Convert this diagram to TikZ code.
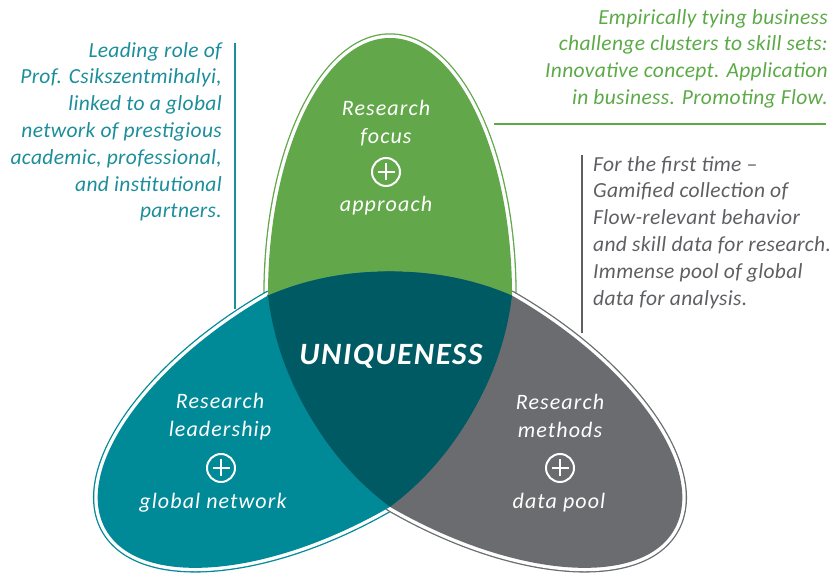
\documentclass[tikz,border=0pt]{standalone}
\usepackage{fontspec}
\setmainfont{Carlito}
\newfontfamily\petalfont[LetterSpace=5]{Carlito}
\newfontfamily\notefont[LetterSpace=1.5,Ligatures=TeX]{Carlito}
\usepackage{xcolor}
\usepackage{tikz}
\usetikzlibrary{positioning}
\definecolor{focusgreen}{HTML}{62A84B}
\definecolor{leadteal}{HTML}{008A98}
\definecolor{methgray}{HTML}{6B6C70}
\definecolor{uniqdark}{HTML}{005A63}
\definecolor{noteteal}{HTML}{1C8E9B}
\definecolor{notegreen}{HTML}{5CAA47}
\definecolor{notegray}{HTML}{5E5F62}
% one egg, narrow end outward, pointed end at the middle
\newcommand\eggpath{(268,282) arc[start angle=180,end angle=0,x radius=122,y radius=257]
  .. controls (502.9,200.5) and (456.7,121.7) .. (390,74)
  .. controls (323.3,121.7) and (277.1,200.5) .. (268,282) -- cycle}
\tikzset{
  note/.style={inner sep=0pt,font=\notefont\itshape\fontsize{21.5}{26.8}\selectfont},
  petaltext/.style={inner sep=0pt,anchor=base,text=white,font=\petalfont\itshape\fontsize{22}{27}\selectfont},
  turn/.style={rotate around={#1:(390,211)}},
  plusring/.style={circle,draw=white,line width=2pt,minimum size=28pt,inner sep=0pt,
    path picture={\draw[white,line width=2pt]
      ([xshift=-8.5pt]path picture bounding box.center) -- ([xshift=8.5pt]path picture bounding box.center)
      ([yshift=-8.5pt]path picture bounding box.center) -- ([yshift=8.5pt]path picture bounding box.center);}},
}
\begin{document}
\begin{tikzpicture}[x=1pt,y=1pt,line join=round]
  \useasboundingbox (0,0) rectangle (835,577);
  % petals: thin rim with white gap, then fill
  \foreach \rot/\col in {0/focusgreen,120/leadteal,-120/methgray}{
    \draw[\col,line width=9.4pt,turn=\rot] \eggpath;
    \draw[white,line width=6.8pt,turn=\rot] \eggpath;
  }
  \foreach \rot/\col in {0/focusgreen,120/leadteal,-120/methgray}
    \fill[\col,turn=\rot] \eggpath;
  % overlaps
  \foreach \ra/\rb in {0/120,0/-120,120/-120}{
    \begin{scope}
      \clip[turn=\ra] \eggpath;
      \fill[uniqdark,turn=\rb] \eggpath;
    \end{scope}
  }
  \node[font=\petalfont\bfseries\itshape\fontsize{31}{32}\selectfont,text=white,anchor=base,inner sep=0pt] (uniq) at (391,212) {UNIQUENESS};

  % petal labels
  \node[petaltext] (focusa) at (386,461) {Research};
  \node[petaltext] (focusb) at (386,433) {focus};
  \node[plusring] (focusplus) at (386,405) {};
  \node[petaltext] (focusc) at (386,365) {approach};

  \node[petaltext] (leada) at (220,168) {Research};
  \node[petaltext] (leadb) at (220,140) {leadership};
  \node[plusring] (leadplus) at (221,109) {};
  \node[petaltext] (leadc) at (213,68) {global network};

  \node[petaltext] (metha) at (560,167) {Research};
  \node[petaltext] (methb) at (560,139) {methods};
  \node[plusring] (methplus) at (560,109) {};
  \node[petaltext] (methc) at (559,68) {data pool};

  % side notes
  \node[note,text=noteteal,anchor=north east,align=right] (leadnote) at (222,535)
    {Leading role of\\Prof. Csikszentmihalyi,\\linked to a global\\network of prestigious\\academic, professional,\\and institutional\\partners.};
  \coordinate (leadtop) at (235,534);
  \coordinate (leadfoot) at (235,268);
  \draw[noteteal,line width=1.3pt] (leadtop) -- (leadfoot);

  \node[note,text=notegreen,anchor=north east,align=right] (focusnote) at (828,568)
    {Empirically tying business\\challenge clusters to skill sets:\\Innovative concept. Application\\in business. Promoting Flow.};
  \coordinate (focusfoot) at (494,453);
  \coordinate (focusend) at (826,453);
  \draw[notegreen,line width=1.3pt] (focusfoot) -- (focusend);

  \node[note,text=notegray,anchor=north west,align=left] (methnote) at (593,421)
    {For the first time –\\Gamified collection of\\Flow-relevant behavior\\and skill data for research.\\Immense pool of global\\data for analysis.};
  \coordinate (methtop) at (582,422);
  \coordinate (methfoot) at (582,244);
  \draw[notegray,line width=1.3pt] (methtop) -- (methfoot);
\end{tikzpicture}
\end{document}
